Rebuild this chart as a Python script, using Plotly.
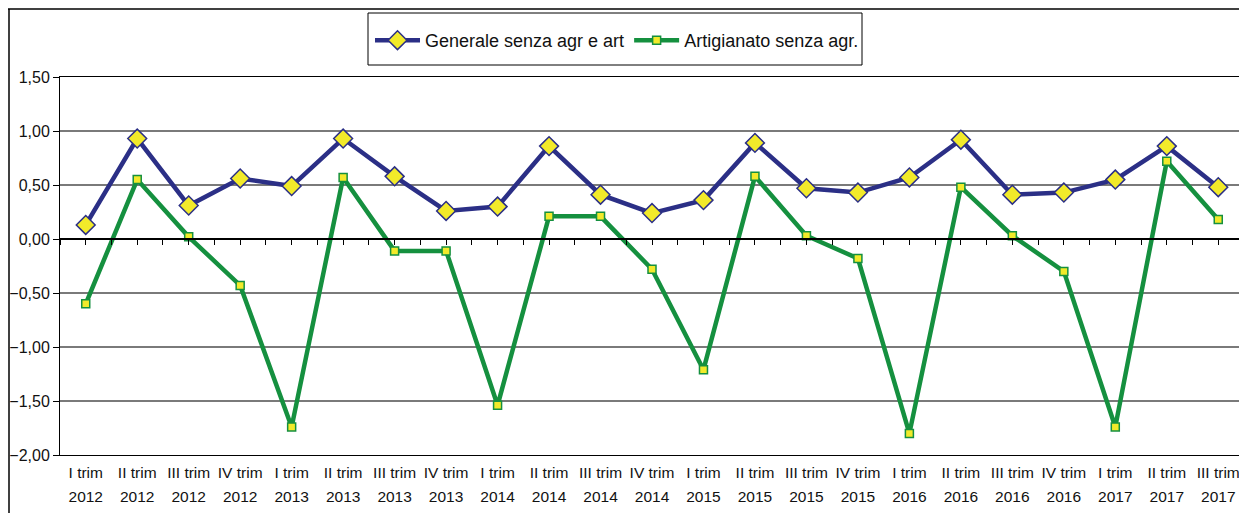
import plotly.graph_objects as go

quarters = ["I trim", "II trim", "III trim", "IV trim"] * 6
quarters = quarters[:23]
years = ["2012"] * 4 + ["2013"] * 4 + ["2014"] * 4 + ["2015"] * 4 + ["2016"] * 4 + ["2017"] * 3
generale = [0.13, 0.93, 0.31, 0.56, 0.49, 0.93, 0.58, 0.26, 0.30, 0.86, 0.41, 0.24,
            0.36, 0.89, 0.47, 0.43, 0.57, 0.92, 0.41, 0.43, 0.55, 0.86, 0.48]
artigianato = [-0.60, 0.55, 0.02, -0.43, -1.74, 0.57, -0.11, -0.11, -1.54, 0.21, 0.21, -0.28,
               -1.21, 0.58, 0.03, -0.18, -1.80, 0.48, 0.03, -0.30, -1.74, 0.72, 0.18]
y_ticks = [1.5, 1.0, 0.5, 0.0, -0.5, -1.0, -1.5, -2.0]

n = len(quarters)
xs = list(range(n))

fig = go.Figure()
fig.add_trace(go.Scatter(
    x=xs, y=generale, mode="lines+markers", name="Generale senza agr e art",
    line=dict(color="#2b2f86", width=4.5),
    marker=dict(symbol="diamond", size=14.5, color="#f2ea2a", line=dict(color="#2b2f86", width=1.5)),
))
fig.add_trace(go.Scatter(
    x=xs, y=artigianato, mode="lines+markers", name="Artigianato senza agr.",
    line=dict(color="#15903f", width=4.5),
    marker=dict(symbol="square", size=8, color="#f2ea2a", line=dict(color="#15903f", width=1.5)),
))
# invisible traces for the zero-line tick axis and the year label axis
fig.add_trace(go.Scatter(x=xs, y=[None] * n, xaxis="x2", showlegend=False, hoverinfo="skip"))
fig.add_trace(go.Scatter(x=xs, y=[None] * n, xaxis="x3", showlegend=False, hoverinfo="skip"))

# page body has an 8px margin, so the figure starts at (8, 8) on screen
W, H = 1239, 505
L, R, T, B = 52, W - 1236, 69, H - 447
pw, ph = W - L - R, H - T - B
zero_pos = (0 - (-2.0)) / 3.5
tickfont = dict(size=15.5, family="Liberation Sans, Arial, sans-serif", color="#111")

fig.update_layout(
    width=W, height=H,
    margin=dict(l=L, r=R, t=T, b=B, autoexpand=False),
    paper_bgcolor="white", plot_bgcolor="white",
    separators=",.",
    font=dict(family="Liberation Sans, Arial, sans-serif", size=16, color="#111"),
    xaxis=dict(
        range=[-0.5, n - 0.5], tickvals=xs, ticktext=quarters, automargin=False,
        showgrid=False, zeroline=False, ticks="", showline=True, linecolor="black",
        linewidth=1, mirror=True, tickfont=tickfont, ticklabelstandoff=3,
    ),
    xaxis2=dict(
        range=[-0.5, n - 0.5], overlaying="x", anchor="free", position=zero_pos,
        tickvals=[i * 0.5 - 0.5 for i in range(2 * n + 1)], showticklabels=False,
        ticks="outside", ticklen=5, tickcolor="black", showline=True, linecolor="black",
        linewidth=1.5, showgrid=False, zeroline=False, automargin=False,
    ),
    xaxis3=dict(
        range=[-0.5, n - 0.5], overlaying="x", anchor="y", side="bottom",
        tickvals=xs, ticktext=years, showline=False, showgrid=False, zeroline=False,
        ticks="", automargin=False, tickfont=tickfont, ticklabelstandoff=30,
    ),
    yaxis=dict(
        range=[-2.0, 1.5], tickvals=y_ticks, tickformat=".2f", automargin=False,
        showgrid=True, gridcolor="#7a7a7a", gridwidth=1.5, zeroline=False,
        showline=True, linecolor="black", linewidth=1, mirror=True,
        ticks="outside", ticklen=6, tickcolor="black", tickfont=dict(size=16),
    ),
    showlegend=True,
    legend=dict(
        orientation="h", x=(362 - L) / pw, y=1 + (T - 14) / ph, xanchor="left", yanchor="top",
        bgcolor="rgba(0,0,0,0)", font=dict(size=18), itemwidth=45, tracegroupgap=0,
    ),
    shapes=[
        dict(type="rect", xref="paper", yref="paper",
             x0=(360 - L) / pw, x1=(854 - L) / pw,
             y0=1 + (T - 57) / ph, y1=1 + (T - 5) / ph,
             line=dict(color="black", width=1), fillcolor="rgba(0,0,0,0)"),
        dict(type="line", xref="paper", yref="paper",
             x0=-L / pw, x1=(W - L) / pw, y0=1 + (T - 1) / ph, y1=1 + (T - 1) / ph,
             line=dict(color="black", width=1.5)),
        dict(type="line", xref="paper", yref="paper",
             x0=(1 - L) / pw, x1=(1 - L) / pw, y0=1 + (T - 1) / ph, y1=-(B + 5) / ph,
             line=dict(color="black", width=1.5)),
    ],
)

fig.write_html("out.html")
